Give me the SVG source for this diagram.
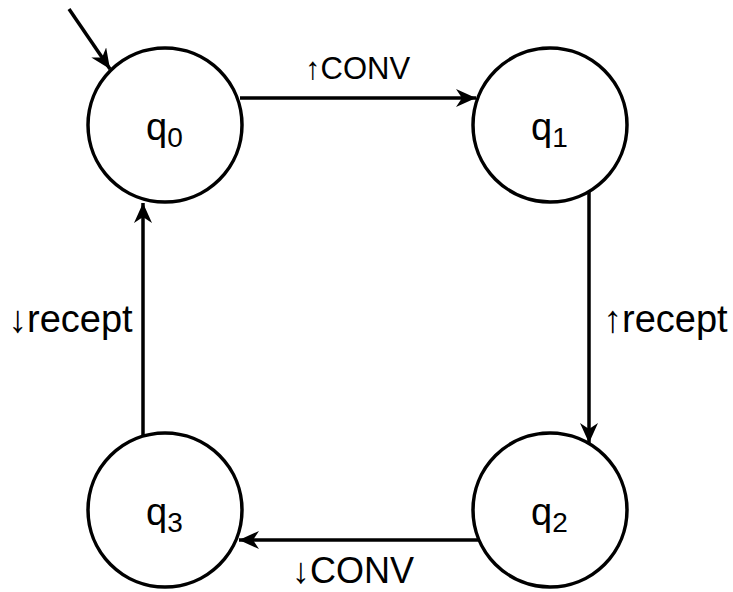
<svg xmlns="http://www.w3.org/2000/svg" width="733" height="592" viewBox="0 0 733 592">
<defs>
<style>
.st{fill:#fff;stroke:#000;stroke-width:3.5}
.lb{font-family:"Liberation Sans",Arial,sans-serif;fill:#000}
.ed{stroke:#000;stroke-width:3.5;fill:none;marker-end:url(#ah)}
</style>
<marker id="ah" markerUnits="userSpaceOnUse" markerWidth="22" markerHeight="20" refX="20" refY="9" orient="auto" viewBox="0 0 22 20">
<path d="M0,0 L20,9 L0,18 L6,9 Z" fill="#000"/>
</marker>
</defs>
<rect width="733" height="592" fill="#fff"/>
<g id="edges">
<line class="ed" x1="69" y1="9" x2="110" y2="69"/>
<line class="ed" x1="240" y1="98" x2="476" y2="98"/>
<line class="ed" x1="589" y1="191" x2="589" y2="443"/>
<line class="ed" x1="479" y1="540" x2="239" y2="540"/>
<line class="ed" x1="143" y1="436" x2="143" y2="203"/>
<text class="lb" x="305" y="79" font-size="31">↑CONV</text>
<text class="lb" x="603" y="332" font-size="38">↑recept</text>
<text class="lb" x="8" y="332" font-size="38">↓recept</text>
<text class="lb" x="292" y="583" font-size="36">↓CONV</text>
</g>
<g id="q0">
<circle class="st" cx="165" cy="125" r="77"/>
<text class="lb" x="146" y="140" font-size="38">q<tspan font-size="28" dy="7">0</tspan></text>
</g>
<g id="q1">
<circle class="st" cx="550" cy="125" r="77"/>
<text class="lb" x="531" y="140" font-size="38">q<tspan font-size="28" dy="7">1</tspan></text>
</g>
<g id="q2">
<circle class="st" cx="550" cy="510" r="77"/>
<text class="lb" x="531" y="525" font-size="38">q<tspan font-size="28" dy="7">2</tspan></text>
</g>
<g id="q3">
<circle class="st" cx="165" cy="510" r="77"/>
<text class="lb" x="146" y="525" font-size="38">q<tspan font-size="28" dy="7">3</tspan></text>
</g>
</svg>
